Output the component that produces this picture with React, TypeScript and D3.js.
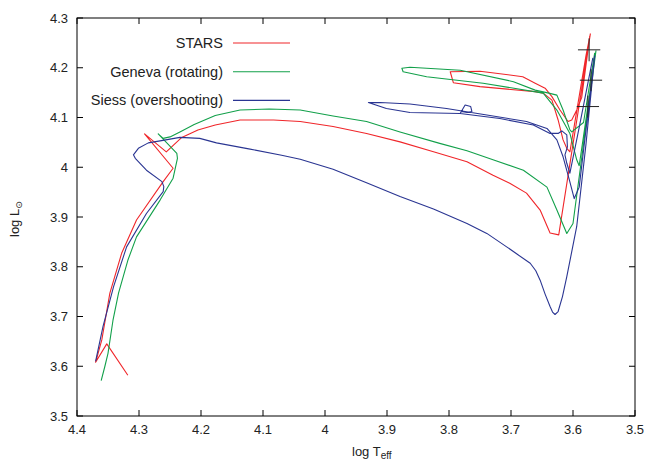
import React from "react";
import * as d3 from "d3";

// ---------- data (log Teff, log L) ----------
const starsTeff = [4.318, 4.352, 4.370, 4.360, 4.347, 4.328, 4.304, 4.261, 4.245, 4.291, 4.256, 4.231, 4.205, 4.177, 4.137, 4.083, 4.040, 3.987, 3.933, 3.879, 3.825, 3.771, 3.729, 3.702, 3.675, 3.653, 3.637, 3.623, 3.572, 3.579, 3.605, 3.610, 3.616, 3.624, 3.634, 3.648, 3.661, 3.750, 3.793, 3.798, 3.750, 3.681, 3.661, 3.645, 3.634, 3.621, 3.608, 3.602, 3.594, 3.586, 3.573];
const starsLum = [3.582, 3.645, 3.608, 3.653, 3.747, 3.827, 3.894, 3.971, 3.998, 4.067, 4.031, 4.060, 4.075, 4.085, 4.095, 4.095, 4.092, 4.082, 4.068, 4.051, 4.031, 4.011, 3.984, 3.968, 3.948, 3.914, 3.868, 3.864, 4.268, 4.225, 4.031, 4.038, 4.055, 4.095, 4.135, 4.149, 4.152, 4.162, 4.170, 4.192, 4.193, 4.182, 4.169, 4.159, 4.142, 4.115, 4.092, 4.095, 4.115, 4.140, 4.262];

const genevaTeff = [4.361, 4.355, 4.350, 4.342, 4.333, 4.318, 4.304, 4.266, 4.245, 4.238, 4.239, 4.269, 4.261, 4.250, 4.234, 4.211, 4.177, 4.137, 4.090, 4.040, 3.987, 3.933, 3.879, 3.815, 3.771, 3.729, 3.680, 3.642, 3.626, 3.610, 3.600, 3.563, 3.590, 3.594, 3.605, 3.626, 3.648, 3.745, 3.836, 3.874, 3.876, 3.863, 3.782, 3.696, 3.661, 3.639, 3.626, 3.616, 3.605, 3.602, 3.583, 3.565];
const genevaLum = [3.571, 3.600, 3.626, 3.692, 3.747, 3.813, 3.860, 3.934, 3.978, 4.018, 4.028, 4.067, 4.058, 4.061, 4.071, 4.086, 4.104, 4.115, 4.117, 4.115, 4.103, 4.092, 4.071, 4.048, 4.033, 4.015, 3.994, 3.960, 3.914, 3.867, 3.887, 4.234, 4.003, 4.015, 4.068, 4.115, 4.149, 4.169, 4.182, 4.192, 4.199, 4.201, 4.195, 4.172, 4.155, 4.149, 4.145, 4.115, 4.075, 4.071, 4.090, 4.230];

const siessTeff = [4.370, 4.358, 4.341, 4.320, 4.288, 4.261, 4.260, 4.263, 4.288, 4.306, 4.309, 4.301, 4.285, 4.266, 4.234, 4.202, 4.175, 4.123, 4.070, 4.040, 3.987, 3.933, 3.879, 3.825, 3.771, 3.739, 3.707, 3.691, 3.669, 3.660, 3.653, 3.645, 3.637, 3.633, 3.629, 3.624, 3.617, 3.610, 3.594, 3.579, 3.565, 3.590, 3.598, 3.606, 3.616, 3.626, 3.642, 3.675, 3.739, 3.804, 3.863, 3.911, 3.930, 3.901, 3.863, 3.782, 3.774, 3.765, 3.763, 3.771, 3.780, 3.782, 3.718, 3.664, 3.637, 3.624, 3.618, 3.610, 3.609, 3.613, 3.610, 3.605, 3.590, 3.568];
const siessLum = [3.610, 3.680, 3.760, 3.840, 3.907, 3.951, 3.961, 3.971, 3.994, 4.018, 4.025, 4.038, 4.049, 4.053, 4.060, 4.058, 4.049, 4.037, 4.024, 4.016, 3.996, 3.969, 3.941, 3.916, 3.887, 3.867, 3.840, 3.826, 3.807, 3.792, 3.773, 3.745, 3.720, 3.709, 3.704, 3.710, 3.740, 3.780, 3.881, 4.047, 4.224, 3.960, 3.937, 3.975, 4.021, 4.055, 4.078, 4.092, 4.105, 4.118, 4.127, 4.130, 4.130, 4.118, 4.110, 4.108, 4.125, 4.122, 4.112, 4.110, 4.112, 4.108, 4.098, 4.085, 4.068, 4.068, 4.073, 4.065, 4.041, 4.025, 4.008, 3.988, 4.080, 4.220];

// observations with error bars
const obsTeff = [3.574, 3.571, 3.576];
const obsLum = [4.236, 4.175, 4.122];
const obsTeffErr = [0.018, 0.018, 0.018];
const obsLumErr = [0.023, 0.022, 0.022];

const xTicks = [4.4, 4.3, 4.2, 4.1, 4.0, 3.9, 3.8, 3.7, 3.6, 3.5];
const xTickLabels = ["4.4", "4.3", "4.2", "4.1", "4", "3.9", "3.8", "3.7", "3.6", "3.5"];
const yTicks = [3.5, 3.6, 3.7, 3.8, 3.9, 4.0, 4.1, 4.2, 4.3];
const yTickLabels = ["3.5", "3.6", "3.7", "3.8", "3.9", "4", "4.1", "4.2", "4.3"];

const seriesNames = ["STARS", "Geneva (rotating)", "Siess (overshooting)"];
const seriesColors = ["#f0262a", "#12a04a", "#2a3592"];

// ---------- layout ----------
const W = 651, H = 460;
const left = 77, right = 635, top = 18, bottom = 416;
const FONT = "'Liberation Sans', Arial, Helvetica, sans-serif";

export default function App() {
  const x = d3.scaleLinear().domain([4.4, 3.5]).range([left, right]);
  const y = d3.scaleLinear().domain([3.5, 4.3]).range([bottom, top]);
  const line = d3
    .line<[number, number]>()
    .x((d) => x(d[0]))
    .y((d) => y(d[1]));

  const series = [
    d3.zip(starsTeff, starsLum) as [number, number][],
    d3.zip(genevaTeff, genevaLum) as [number, number][],
    d3.zip(siessTeff, siessLum) as [number, number][],
  ];
  const tl = 6;

  return (
    <svg
      width={W}
      height={H}
      style={{ position: "absolute", left: 0, top: 0, background: "#fff" }}
      fontFamily={FONT}
    >
      <rect x={0} y={0} width={W} height={H} fill="#fff" />
      {/* tracks */}
      {series.map((s, i) => (
        <path key={i} d={line(s) || ""} fill="none" stroke={seriesColors[i]} strokeWidth={1.1} strokeLinejoin="round" />
      ))}
      {/* observations */}
      {obsTeff.map((t, i) => (
        <g key={"o" + i} stroke="#222" strokeWidth={1}>
          <line x1={x(t - obsTeffErr[i])} x2={x(t + obsTeffErr[i])} y1={y(obsLum[i])} y2={y(obsLum[i])} />
          <line x1={x(t)} x2={x(t)} y1={y(obsLum[i] - obsLumErr[i])} y2={y(obsLum[i] + obsLumErr[i])} />
        </g>
      ))}
      {/* frame */}
      <rect x={left} y={top} width={right - left} height={bottom - top} fill="none" stroke="#000" strokeWidth={1} />
      {/* x ticks */}
      {xTicks.map((t, i) => (
        <g key={"x" + i}>
          <line x1={x(t)} x2={x(t)} y1={bottom} y2={bottom - tl} stroke="#000" />
          <line x1={x(t)} x2={x(t)} y1={top} y2={top + tl} stroke="#000" />
          <text x={x(t)} y={bottom + 18} textAnchor="middle" fontSize={13} fill="#222">
            {xTickLabels[i]}
          </text>
        </g>
      ))}
      {/* y ticks */}
      {yTicks.map((t, i) => (
        <g key={"y" + i}>
          <line x1={left} x2={left + tl} y1={y(t)} y2={y(t)} stroke="#000" />
          <line x1={right} x2={right - tl} y1={y(t)} y2={y(t)} stroke="#000" />
          <text x={left - 9} y={y(t)} dy="0.35em" textAnchor="end" fontSize={13} fill="#222">
            {yTickLabels[i]}
          </text>
        </g>
      ))}
      {/* axis titles */}
      <text x={352} y={456} fontSize={13} fill="#222">
        log T<tspan fontSize={10} dy={3}>eff</tspan>
      </text>
      <text transform="translate(19,237) rotate(-90)" fontSize={13} fill="#222">
        log L<tspan fontSize={9} dy={3} fontFamily="'DejaVu Sans', sans-serif">⊙</tspan>
      </text>
      {/* legend */}
      {seriesNames.map((n, i) => (
        <g key={"l" + i}>
          <text x={223} y={48 + i * 28.7} textAnchor="end" fontSize={14.5} fill="#222">
            {n}
          </text>
          <line x1={233} x2={290} y1={43 + i * 28.7} y2={43 + i * 28.7} stroke={seriesColors[i]} strokeWidth={1.1} />
        </g>
      ))}
    </svg>
  );
}
